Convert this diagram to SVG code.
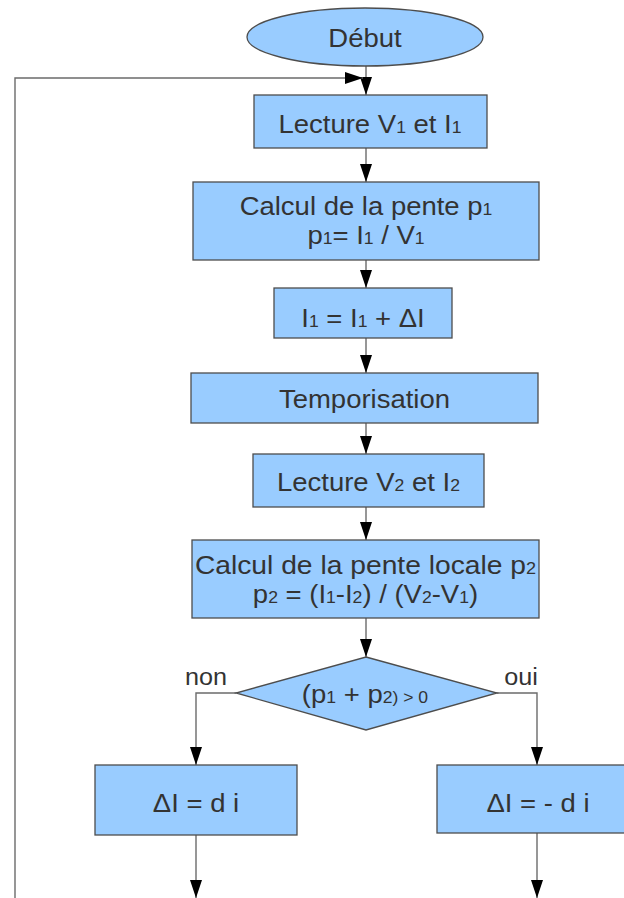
<svg xmlns="http://www.w3.org/2000/svg" width="624" height="898" viewBox="0 0 624 898">
<style>
.box{fill:#99ccff;stroke:#4d4d4d;stroke-width:1.3}
.ln{fill:none;stroke:#6b6b6b;stroke-width:1.4}
.t{font-family:"Liberation Sans",Arial,sans-serif;font-size:25px;fill:#333;text-anchor:middle;transform-box:fill-box;transform-origin:center;transform:scaleX(1.1)}
.w{transform:scaleX(1.13)}
.s{font-size:16px}
.l{font-family:"Liberation Sans",Arial,sans-serif;font-size:24px;fill:#333;text-anchor:middle;transform-box:fill-box;transform-origin:center;transform:scaleX(1.05)}
</style>
<defs>
<marker id="ah" viewBox="0 0 18 12" refX="18" refY="6" markerWidth="18" markerHeight="12" markerUnits="userSpaceOnUse" orient="auto">
<path d="M0,0 L18,6 L0,12 z" fill="#000"/>
</marker>
</defs>
<rect width="624" height="898" fill="#fff"/>
<g id="connectors">
<path class="ln" d="M366,66 V95" marker-end="url(#ah)"/>
<path class="ln" d="M15,898 V78 H363" marker-end="url(#ah)"/>
<path class="ln" d="M366,148 V182" marker-end="url(#ah)"/>
<path class="ln" d="M366,260 V288" marker-end="url(#ah)"/>
<path class="ln" d="M366,338 V373" marker-end="url(#ah)"/>
<path class="ln" d="M366,423 V454" marker-end="url(#ah)"/>
<path class="ln" d="M366,507 V540" marker-end="url(#ah)"/>
<path class="ln" d="M366,618 V657" marker-end="url(#ah)"/>
<path class="ln" d="M236,693 H196 V765" marker-end="url(#ah)"/>
<path class="ln" d="M497,693 H537 V765" marker-end="url(#ah)"/>
<path class="ln" d="M196,835 V898" marker-end="url(#ah)"/>
<path class="ln" d="M537,833 V898" marker-end="url(#ah)"/>
</g>
<g id="debut">
<ellipse class="box" cx="365" cy="37" rx="118" ry="29"/>
<text class="t" x="365" y="47">Début</text>
</g>
<g id="lecture1">
<rect class="box" x="254" y="95" width="233" height="53"/>
<text class="t" x="370" y="133">Lecture V<tspan class="s">1</tspan> et I<tspan class="s">1</tspan></text>
</g>
<g id="calcul1">
<rect class="box" x="193" y="182" width="346" height="78"/>
<text class="t" x="366" y="215">Calcul de la pente p<tspan class="s">1</tspan></text>
<text class="t" x="366" y="244">p<tspan class="s">1</tspan>= I<tspan class="s">1</tspan> / V<tspan class="s">1</tspan></text>
</g>
<g id="increment">
<rect class="box" x="274" y="288" width="178" height="50"/>
<text class="t" x="363" y="327">I<tspan class="s">1</tspan> = I<tspan class="s">1</tspan> + ΔI</text>
</g>
<g id="tempo">
<rect class="box" x="191" y="373" width="347" height="50"/>
<text class="t" x="364.5" y="408">Temporisation</text>
</g>
<g id="lecture2">
<rect class="box" x="253" y="454" width="231" height="53"/>
<text class="t" x="368.5" y="491">Lecture V<tspan class="s">2</tspan> et I<tspan class="s">2</tspan></text>
</g>
<g id="calcul2">
<rect class="box" x="192" y="540" width="347" height="78"/>
<text class="t w" x="365.5" y="574">Calcul de la pente locale p<tspan class="s">2</tspan></text>
<text class="t" x="365.5" y="603">p<tspan class="s">2</tspan> = (I<tspan class="s">1</tspan>-I<tspan class="s">2</tspan>) / (V<tspan class="s">2</tspan>-V<tspan class="s">1</tspan>)</text>
</g>
<g id="decision">
<polygon class="box" points="366,657 497,693 366,730 236,693"/>
<text class="t" x="365" y="703">(p<tspan class="s">1</tspan> + p<tspan class="s">2) &gt; 0</tspan></text>
<text class="l" x="206" y="685">non</text>
<text class="l" x="521" y="685">oui</text>
</g>
<g id="delta_plus">
<rect class="box" x="95" y="765" width="202" height="70"/>
<text class="t" x="196" y="812">ΔI = d i</text>
</g>
<g id="delta_minus">
<rect class="box" x="437" y="765" width="202" height="68"/>
<text class="t" x="538" y="812">ΔI = - d i</text>
</g>
</svg>
